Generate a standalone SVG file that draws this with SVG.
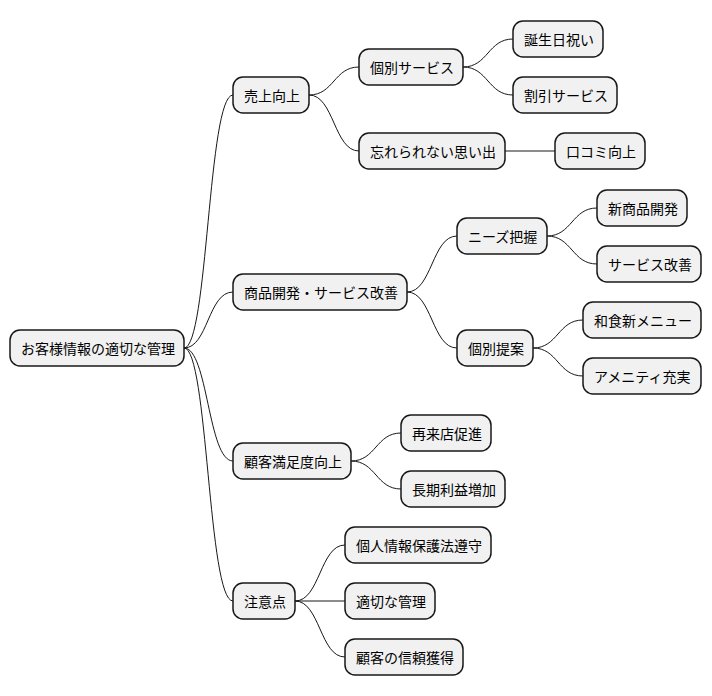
<svg xmlns="http://www.w3.org/2000/svg" width="712" height="696" viewBox="0 0 712 696">
<style>
.n rect{fill:#F1F1F1;stroke:#181818;stroke-width:1.5}
.n text{font-family:"Noto Sans CJK JP","Noto Sans",sans-serif;font-size:14px;fill:#000;dominant-baseline:central}
#links path{fill:none;stroke:#181818;stroke-width:1}
</style>
<rect width="712" height="696" fill="#fff"/>
<g id="links">
<path d="M184,348 C208,348 208,95 233,95"/>
<path d="M184,348 C208,348 208,292 233,292"/>
<path d="M184,348 C208,348 208,461 233,461"/>
<path d="M184,348 C208,348 208,601 233,601"/>
<path d="M309,95 C334,95 334,67 359,67"/>
<path d="M309,95 C334,95 334,151 359,151"/>
<path d="M463,67 C488,67 488,39 513,39"/>
<path d="M463,67 C488,67 488,95 513,95"/>
<path d="M505,151 L555,151"/>
<path d="M407,292 C432,292 432,236 457,236"/>
<path d="M407,292 C432,292 432,348 457,348"/>
<path d="M547,236 C572,236 572,208 597,208"/>
<path d="M547,236 C572,236 572,264 597,264"/>
<path d="M533,348 C558,348 558,320 583,320"/>
<path d="M533,348 C558,348 558,376 583,376"/>
<path d="M351,461 C376,461 376,433 401,433"/>
<path d="M351,461 C376,461 376,489 401,489"/>
<path d="M295,601 C320,601 320,545 345,545"/>
<path d="M295,601 L345,601"/>
<path d="M295,601 C320,601 320,657 345,657"/>
</g>
<g id="root" class="n"><rect x="10" y="330" width="174" height="36" rx="10"/><text x="21" y="348">お客様情報の適切な管理</text></g>
<g id="n1" class="n"><rect x="233" y="77" width="76" height="36" rx="10"/><text x="244" y="95">売上向上</text></g>
<g id="n11" class="n"><rect x="359" y="49" width="104" height="36" rx="10"/><text x="370" y="67">個別サービス</text></g>
<g id="n111" class="n"><rect x="513" y="21" width="90" height="36" rx="10"/><text x="524" y="39">誕生日祝い</text></g>
<g id="n112" class="n"><rect x="513" y="77" width="104" height="36" rx="10"/><text x="524" y="95">割引サービス</text></g>
<g id="n12" class="n"><rect x="359" y="133" width="146" height="36" rx="10"/><text x="370" y="151">忘れられない思い出</text></g>
<g id="n121" class="n"><rect x="555" y="133" width="90" height="36" rx="10"/><text x="566" y="151">口コミ向上</text></g>
<g id="n2" class="n"><rect x="233" y="274" width="174" height="36" rx="10"/><text x="244" y="292">商品開発・サービス改善</text></g>
<g id="n21" class="n"><rect x="457" y="218" width="90" height="36" rx="10"/><text x="468" y="236">ニーズ把握</text></g>
<g id="n211" class="n"><rect x="597" y="190" width="90" height="36" rx="10"/><text x="608" y="208">新商品開発</text></g>
<g id="n212" class="n"><rect x="597" y="246" width="104" height="36" rx="10"/><text x="608" y="264">サービス改善</text></g>
<g id="n22" class="n"><rect x="457" y="330" width="76" height="36" rx="10"/><text x="468" y="348">個別提案</text></g>
<g id="n221" class="n"><rect x="583" y="302" width="118" height="36" rx="10"/><text x="594" y="320">和食新メニュー</text></g>
<g id="n222" class="n"><rect x="583" y="358" width="118" height="36" rx="10"/><text x="594" y="376">アメニティ充実</text></g>
<g id="n3" class="n"><rect x="233" y="443" width="118" height="36" rx="10"/><text x="244" y="461">顧客満足度向上</text></g>
<g id="n31" class="n"><rect x="401" y="415" width="90" height="36" rx="10"/><text x="412" y="433">再来店促進</text></g>
<g id="n32" class="n"><rect x="401" y="471" width="104" height="36" rx="10"/><text x="412" y="489">長期利益増加</text></g>
<g id="n4" class="n"><rect x="233" y="583" width="62" height="36" rx="10"/><text x="244" y="601">注意点</text></g>
<g id="n41" class="n"><rect x="345" y="527" width="146" height="36" rx="10"/><text x="356" y="545">個人情報保護法遵守</text></g>
<g id="n42" class="n"><rect x="345" y="583" width="90" height="36" rx="10"/><text x="356" y="601">適切な管理</text></g>
<g id="n43" class="n"><rect x="345" y="639" width="118" height="36" rx="10"/><text x="356" y="657">顧客の信頼獲得</text></g>
</svg>
